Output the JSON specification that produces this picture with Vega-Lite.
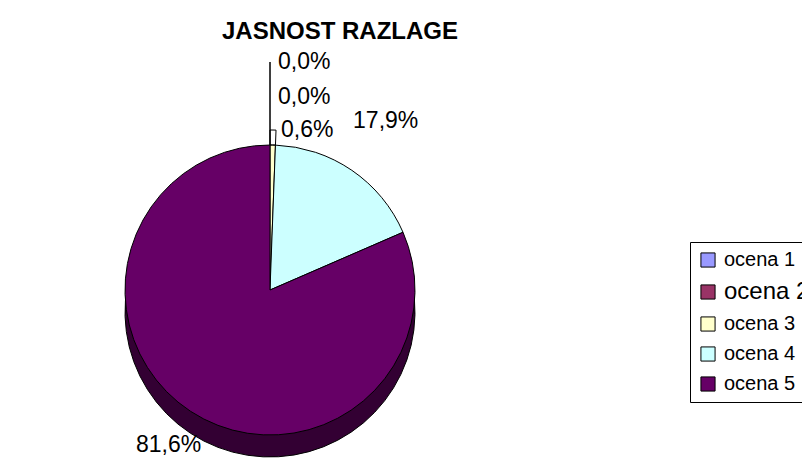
{
  "$schema": "https://vega.github.io/schema/vega-lite/v6.json",
  "autosize": {"type": "none"},
  "padding": {"left": 0, "top": 120, "right": 262, "bottom": 0},
  "width": 540,
  "height": 340,
  "background": "white",
  "title": {"text": "JASNOST RAZLAGE", "font": "Liberation Sans", "fontSize": 24, "fontWeight": "bold", "color": "black", "anchor": "middle", "frame": "group", "dx": 70, "offset": 7},
  "config": {"view": {"stroke": null}, "text": {"font": "Liberation Sans", "fontSize": 23, "color": "black"}},
  "data": {"values": [
    {"ocena": "ocena 1", "pct": 0.0, "label": "0,0%"},
    {"ocena": "ocena 2", "pct": 0.0, "label": "0,0%"},
    {"ocena": "ocena 3", "pct": 0.6, "label": "0,6%"},
    {"ocena": "ocena 4", "pct": 17.9, "label": "17,9%"},
    {"ocena": "ocena 5", "pct": 81.6, "label": "81,6%"}
  ]},
  "transform": [
    {"stack": "pct", "groupby": [], "sort": [{"field": "ocena", "order": "ascending"}], "as": ["t0", "t1"]},
    {"calculate": "(datum.t0 + datum.t1) / 2", "as": "mid"}
  ],
  "layer": [
    {
      "mark": {"type": "arc", "radius": 145, "yOffset": 22, "fill": "#330033", "stroke": "black", "strokeWidth": 1},
      "encoding": {
        "theta": {"field": "t0", "type": "quantitative", "scale": {"domain": [0, 100.1]}},
        "theta2": {"field": "t1"}
      }
    },
    {
      "mark": {"type": "arc", "radius": 145, "stroke": "black", "strokeWidth": 1},
      "encoding": {
        "theta": {"field": "t0", "type": "quantitative", "scale": {"domain": [0, 100.1]}},
        "theta2": {"field": "t1"},
        "color": {
          "field": "ocena", "type": "nominal",
          "scale": {"domain": ["ocena 1", "ocena 2", "ocena 3", "ocena 4", "ocena 5"], "range": ["#9999FF", "#993366", "#FFFFCC", "#CCFFFF", "#660066"]},
          "legend": {
            "orient": "none", "legendX": 690, "legendY": 122, "title": null,
            "symbolType": "square", "symbolSize": 200, "symbolStrokeColor": "black", "symbolStrokeWidth": 1,
            "labelFont": "Liberation Sans", "labelFontSize": {"expr": "datum.label == 'ocena 2' ? 24 : 20"}, "labelColor": "black",
            "rowPadding": 10, "labelOffset": 6, "strokeColor": "black", "padding": 8, "fillColor": "white", "labelLimit": 300
          }
        }
      }
    },
    {
      "transform": [{"filter": "datum.ocena === 'ocena 1'"}],
      "mark": {"type": "arc", "radius": 228, "radius2": 145, "filled": false, "stroke": "black", "strokeWidth": 1},
      "encoding": {
        "theta": {"field": "t0", "type": "quantitative", "scale": {"domain": [0, 100.1]}},
        "theta2": {"field": "t1"}
      }
    },
    {
      "transform": [{"filter": "datum.ocena === 'ocena 3'"}],
      "mark": {"type": "arc", "radius": 160, "radius2": 145, "filled": false, "stroke": "black", "strokeWidth": 1},
      "encoding": {
        "theta": {"field": "t0", "type": "quantitative", "scale": {"domain": [0, 100.1]}},
        "theta2": {"field": "t1"}
      }
    },
    {
      "transform": [{"filter": "datum.ocena === 'ocena 4'"}],
      "mark": {"type": "text", "radius": 205, "align": "center", "baseline": "middle"},
      "encoding": {
        "theta": {"field": "mid", "type": "quantitative", "scale": {"domain": [0, 100.1]}},
        "text": {"field": "label"}
      }
    },
    {
      "transform": [{"filter": "datum.ocena === 'ocena 5'"}],
      "mark": {"type": "text", "radius": 185, "align": "center", "baseline": "middle"},
      "encoding": {
        "theta": {"field": "mid", "type": "quantitative", "scale": {"domain": [0, 100.1]}},
        "text": {"field": "label"}
      }
    },
    {
      "transform": [{"filter": "datum.ocena === 'ocena 1'"}],
      "mark": {"type": "text", "radius": 228, "align": "left", "baseline": "middle", "dx": 8},
      "encoding": {
        "theta": {"field": "mid", "type": "quantitative", "scale": {"domain": [0, 100.1]}},
        "text": {"field": "label"}
      }
    },
    {
      "transform": [{"filter": "datum.ocena === 'ocena 2'"}],
      "mark": {"type": "text", "radius": 193, "align": "left", "baseline": "middle", "dx": 8},
      "encoding": {
        "theta": {"field": "mid", "type": "quantitative", "scale": {"domain": [0, 100.1]}},
        "text": {"field": "label"}
      }
    },
    {
      "transform": [{"filter": "datum.ocena === 'ocena 3'"}],
      "mark": {"type": "text", "radius": 160, "align": "left", "baseline": "middle", "dx": 8},
      "encoding": {
        "theta": {"field": "mid", "type": "quantitative", "scale": {"domain": [0, 100.1]}},
        "text": {"field": "label"}
      }
    }
  ]
}
